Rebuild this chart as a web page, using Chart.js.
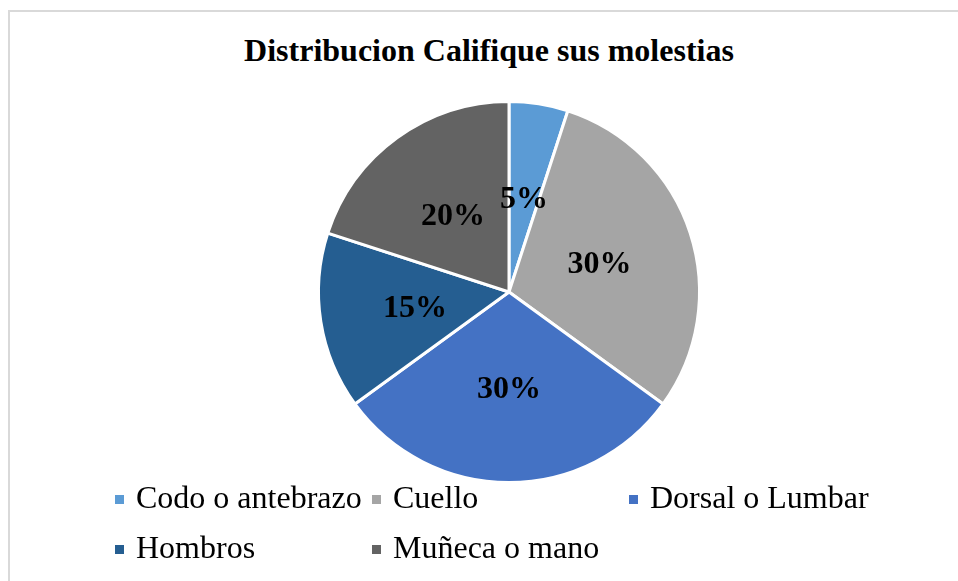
<!DOCTYPE html>
<html>
<head>
<meta charset="utf-8">
<script src="https://cdn.jsdelivr.net/npm/chart.js@4/dist/chart.umd.min.js"></script>
<style>
  html, body { margin: 0; padding: 0; background: #fff; }
  #wrap { position: relative; width: 958px; height: 581px; overflow: hidden; }
  #frame { position: absolute; left: 8px; top: 10px; width: 1000px; height: 600px;
           border-top: 2px solid #d9d9d9; border-left: 2px solid #d9d9d9; }
  #title { position: absolute; left: 0; width: 978px; top: 32px; text-align: center;
           font: bold 32px "Liberation Serif", "Times New Roman", serif; color: #000; }
  #pie { position: absolute; left: 0; top: 0; }
  .leg { position: absolute; font: 32px "Liberation Serif", "Times New Roman", serif; color: #000;
         white-space: nowrap; line-height: 36px; }
  .leg span { display: inline-block; width: 9px; height: 9px; margin-right: 12px; vertical-align: 4px; }
</style>
</head>
<body>
<div id="wrap">
  <div id="frame"></div>
  <div id="title">Distribucion Califique sus molestias</div>
  <canvas id="pie" width="958" height="581"></canvas>
  <div id="legend"></div>
</div>
<script>
var labels = ["Codo o antebrazo", "Cuello", "Dorsal o Lumbar", "Hombros", "Muñeca o mano"];
var values = [5, 30, 30, 15, 20];
var colors = ["#5b9bd5", "#a5a5a5", "#4472c4", "#255e91", "#636363"];

// percent labels in the middle of each slice
var sliceLabels = {
    id: 'sliceLabels',
    afterDatasetsDraw: function(chart){
        var ctx = chart.ctx;
        var meta = chart.getDatasetMeta(0);
        var total = values.reduce(function(a, b){ return a + b; }, 0);
        ctx.save();
        ctx.font = 'bold 32px "Liberation Serif", "Times New Roman", serif';
        ctx.fillStyle = '#000';
        ctx.textAlign = 'center';
        ctx.textBaseline = 'middle';
        meta.data.forEach(function(arc, i){
            var p = arc.tooltipPosition();
            ctx.fillText(Math.round(values[i] / total * 100) + '%', p.x, p.y + 2);
        });
        ctx.restore();
    }
};

var ctx = document.getElementById("pie").getContext("2d");
var myChart = new Chart(ctx, {
    type: 'pie',
    data: {
        labels: labels,
        datasets: [{
            data: values,
            backgroundColor: colors,
            borderColor: '#fff',
            borderWidth: 3
        }]
    },
    options: {
        responsive: false,
        animation: false,
        layout: { padding: { left: 317, right: 257, top: 100, bottom: 97 } },
        plugins: {
            legend: { display: false },
            tooltip: { enabled: false }
        }
    },
    plugins: [sliceLabels]
});

// legend in a 3-column grid like the original
var legend = document.getElementById("legend");
labels.forEach(function(l, i){
    var d = document.createElement("div");
    d.className = "leg";
    d.style.left = (115 + (i % 3) * 257) + "px";
    d.style.top = (479 + Math.floor(i / 3) * 50) + "px";
    d.innerHTML = '<span style="background:' + colors[i] + '"></span>' + l;
    legend.appendChild(d);
});
</script>
</body>
</html>
